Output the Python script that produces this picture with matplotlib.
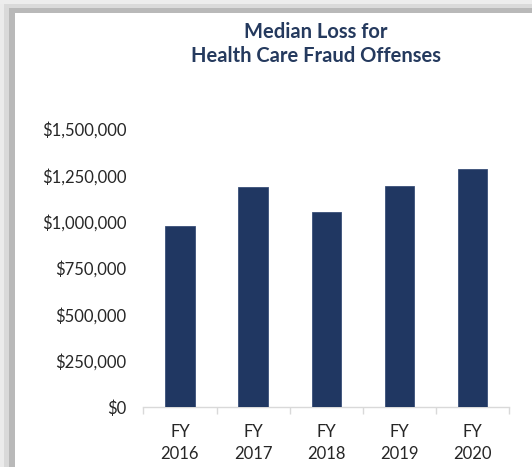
import matplotlib
matplotlib.use("Agg")
import matplotlib.pyplot as plt
from matplotlib.patches import Rectangle
from matplotlib.ticker import FuncFormatter, FixedLocator

categories = ["FY\n2016", "FY\n2017", "FY\n2018", "FY\n2019", "FY\n2020"]
median_loss = [975000, 1187000, 1050000, 1191000, 1284000]
y_ticks = [0, 250000, 500000, 750000, 1000000, 1250000, 1500000]
title = "Median Loss for\nHealth Care Fraud Offenses"

plt.rcParams['font.family'] = ['Lato', 'DejaVu Sans']

W, H = 532, 467
fig = plt.figure(figsize=(W / 100, H / 100), dpi=100)
fig.patch.set_facecolor("white")

# shadow frame on left and top
def px_rect(x0, y0, x1, y1, color):
    fig.patches.append(Rectangle((x0 / W, 1 - y1 / H), (x1 - x0) / W, (y1 - y0) / H,
                                 transform=fig.transFigure, facecolor=color,
                                 edgecolor="none", zorder=-10))

px_rect(0, 0, 4, H, "#ebebeb")
px_rect(4, 4, 9, H, "#d9d9d9")
px_rect(9, 9, 15, H, "#b9b9b9")
px_rect(0, 0, W, 4, "#ededed")
px_rect(4, 4, W, 8, "#dadada")
px_rect(9, 8, W, 13, "#b9b9b9")

ax = fig.add_axes([143.3 / W, 1 - 407 / H, 366 / W, 278 / H])
ax.set_zorder(5)
ax.set_facecolor("none")
x = list(range(len(categories)))
ax.bar(x, median_loss, width=0.4, color="#203762", edgecolor="#3a4f78", linewidth=0.6, zorder=3)

ax.set_xlim(-0.5, len(categories) - 0.5)
ax.set_ylim(0, 1500000)
ax.set_yticks(y_ticks)
ax.yaxis.set_major_formatter(FuncFormatter(lambda v, p: "${:,.0f}".format(v)))
ax.set_xticks(x)
ax.set_xticklabels(categories, linespacing=1.45)
ax.xaxis.set_minor_locator(FixedLocator([i - 0.5 for i in range(len(categories) + 1)]))

for s in ["top", "right", "left"]:
    ax.spines[s].set_visible(False)
ax.spines["bottom"].set_color("#d9d9d9")
ax.spines["bottom"].set_linewidth(1.0)

ax.tick_params(axis="y", length=0, pad=12, labelsize=12, labelcolor="#262626")
ax.tick_params(axis="x", which="major", length=0, pad=12, labelsize=12, labelcolor="#262626")
ax.tick_params(axis="x", which="minor", length=5, width=1.0, color="#d9d9d9")

fig.text(316 / W, 1 - 44 / H, title, ha="center", va="center", fontsize=14.5,
         fontweight="bold", color="#253a5e", linespacing=1.25, zorder=6)

fig.savefig("out.png", dpi=100, facecolor=fig.get_facecolor())
